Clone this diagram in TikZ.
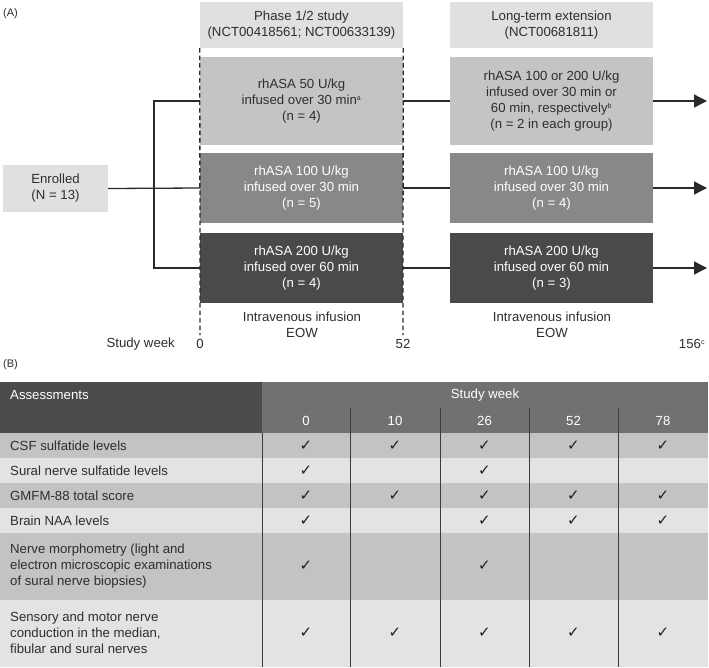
\documentclass[tikz,border=0pt]{standalone}
\usepackage{fontspec}
\setmainfont{Liberation Sans}
\newfontfamily\symfont{DejaVu Sans}
\usetikzlibrary{arrows.meta}
\definecolor{hdrgray}{HTML}{E0E0E0}
\definecolor{rowone}{HTML}{C4C4C4}
\definecolor{rowtwo}{HTML}{888888}
\definecolor{rowthree}{HTML}{4A4A4A}
\definecolor{txtdark}{HTML}{2E2E2E}
\definecolor{tblhdl}{HTML}{4B4B4B}
\definecolor{tblhdr}{HTML}{717171}
\definecolor{tblmid}{HTML}{C3C3C3}
\definecolor{tbllight}{HTML}{E3E3E3}
\definecolor{linegray}{HTML}{3C3C3C}
\definecolor{connc}{HTML}{2A2A2A}
\tikzset{
  txt/.style={font=\fontsize{13.2}{16}\selectfont, text=txtdark, inner sep=0pt},
  box/.style={txt, align=center, draw=none, anchor=center},
  conn/.style={draw=connc, line width=1.3pt},
  dline/.style={draw=connc, line width=1.3pt, dash pattern=on 4.5pt off 3pt},
  arr/.style={conn, -{Triangle[length=13pt,width=13pt]}},
  vsep/.style={draw=linegray, line width=1pt},
  chk/.style={font=\symfont\fontsize{15}{16}\selectfont, text=black!88, inner sep=0pt},
}
\newcommand{\sups}[1]{\textsuperscript{\fontsize{7}{7}\selectfont #1}}
\begin{document}
\begin{tikzpicture}[x=1pt,y=-1pt]
\useasboundingbox (0,0) rectangle (709,667);
\fill[white] (0,0) rectangle (709,667);

% ---------- Panel A ----------
\node[txt, anchor=west] (labA) at (3,14) {\fontsize{11}{13}\selectfont (A)};

\node[box, fill=hdrgray, minimum width=203pt, minimum height=46pt] (h1) at (301.5,25) {Phase 1/2 study\\(NCT00418561; NCT00633139)};
\node[box, fill=hdrgray, minimum width=203pt, minimum height=46pt] (h2) at (551.5,25) {Long-term extension\\(NCT00681811)};

\node[box, fill=rowone, minimum width=203pt, minimum height=88pt] (p1) at (301.5,101) {rhASA 50 U/kg\\infused over 30 min\sups{a}\\(n = 4)};
\node[box, fill=rowtwo, text=white, minimum width=203pt, minimum height=70pt] (p2) at (301.5,188) {rhASA 100 U/kg\\infused over 30 min\\(n = 5)};
\node[box, fill=rowthree, text=white, minimum width=203pt, minimum height=70pt] (p3) at (301.5,268) {rhASA 200 U/kg\\infused over 60 min\\(n = 4)};

\node[box, fill=rowone, minimum width=203pt, minimum height=88pt] (l1) at (551.5,101) {rhASA 100 or 200 U/kg\\infused over 30 min or\\60 min, respectively\sups{b}\\(n = 2 in each group)};
\node[box, fill=rowtwo, text=white, minimum width=203pt, minimum height=70pt] (l2) at (551.5,188) {rhASA 100 U/kg\\infused over 30 min\\(n = 4)};
\node[box, fill=rowthree, text=white, minimum width=203pt, minimum height=70pt] (l3) at (551.5,268) {rhASA 200 U/kg\\infused over 60 min\\(n = 3)};

\node[box, fill=hdrgray, minimum width=105pt, minimum height=47pt] (enr) at (55.5,188.5) {Enrolled\\(N = 13)};

\coordinate (jt) at (154,101);
\coordinate (jb) at (154,268);
\draw[conn] (enr.east) -- (p2.west);
\draw[conn] (p1.west) -- (jt) -- (jb) -- (p3.west);
\draw[conn] (p1.east) -- (l1.west);
\draw[conn] (p2.east) -- (l2.west);
\draw[conn] (p3.east) -- (l3.west);
\coordinate (a1) at (707,101);
\coordinate (a2) at (707,188);
\coordinate (a3) at (707,268);
\draw[arr] (l1.east) -- (a1);
\draw[arr] (l2.east) -- (a2);
\draw[arr] (l3.east) -- (a3);

\coordinate (d0) at (200,335);
\coordinate (d52) at (403,335);
\draw[dline] (h1.south west) -- (d0);
\draw[dline] (h1.south east) -- (d52);

\node[box] (iv1) at (302,325) {Intravenous infusion\\EOW};
\node[box] (iv2) at (552,325) {Intravenous infusion\\EOW};

\node[txt, anchor=east] (sw) at (175,344) {Study week};
\node[txt] (w0) at (200,344) {0};
\node[txt] (w52) at (403,344) {52};
\node[txt] (w156) at (692,344) {156\sups{c}};

% ---------- Panel B ----------
\node[txt, anchor=west] (labB) at (3,365) {\fontsize{11}{13}\selectfont (B)};

\fill[tblhdl] (0,382) rectangle (262,433);
\fill[tblhdr] (262,382) rectangle (708,433);
\fill[tblmid] (0,433) rectangle (708,458);
\fill[tbllight] (0,458) rectangle (708,483);
\fill[tblmid] (0,483) rectangle (708,508);
\fill[tbllight] (0,508) rectangle (708,533);
\fill[tblmid] (0,533) rectangle (708,600);
\fill[tbllight] (0,600) rectangle (708,667);

\draw[vsep] (262,433) -- (262,667);
\foreach \xx in {350,440,529,618} { \draw[vsep] (\xx,408) -- (\xx,667); }

\node[txt, text=white, anchor=west] (ass) at (10,395) {Assessments};
\node[txt, text=white] (swk) at (485,395) {Study week};
\node[txt, text=white] (c0) at (306,421) {0};
\node[txt, text=white] (c10) at (395,421) {10};
\node[txt, text=white] (c26) at (484.5,421) {26};
\node[txt, text=white] (c52) at (573.5,421) {52};
\node[txt, text=white] (c78) at (663,421) {78};

\node[txt, anchor=west] (r1) at (10,446) {CSF sulfatide levels};
\node[txt, anchor=west] (r2) at (10,471) {Sural nerve sulfatide levels};
\node[txt, anchor=west] (r3) at (10,496) {GMFM-88 total score};
\node[txt, anchor=west] (r4) at (10,521) {Brain NAA levels};
\node[txt, anchor=west, align=left] (r5) at (10,566) {Nerve morphometry (light and\\electron microscopic examinations\\of sural nerve biopsies)};
\node[txt, anchor=west, align=left] (r6) at (10,633) {Sensory and motor nerve\\conduction in the median,\\fibular and sural nerves};

% checks
\foreach \xx in {306,395,484.5,573.5,663} { \node[chk] at (\xx,446) {✓}; }
\foreach \xx in {306,484.5} { \node[chk] at (\xx,471) {✓}; }
\foreach \xx in {306,395,484.5,573.5,663} { \node[chk] at (\xx,496) {✓}; }
\foreach \xx in {306,484.5,573.5,663} { \node[chk] at (\xx,521) {✓}; }
\foreach \xx in {306,484.5} { \node[chk] at (\xx,566) {✓}; }
\foreach \xx in {306,395,484.5,573.5,663} { \node[chk] at (\xx,633) {✓}; }
\end{tikzpicture}
\end{document}
